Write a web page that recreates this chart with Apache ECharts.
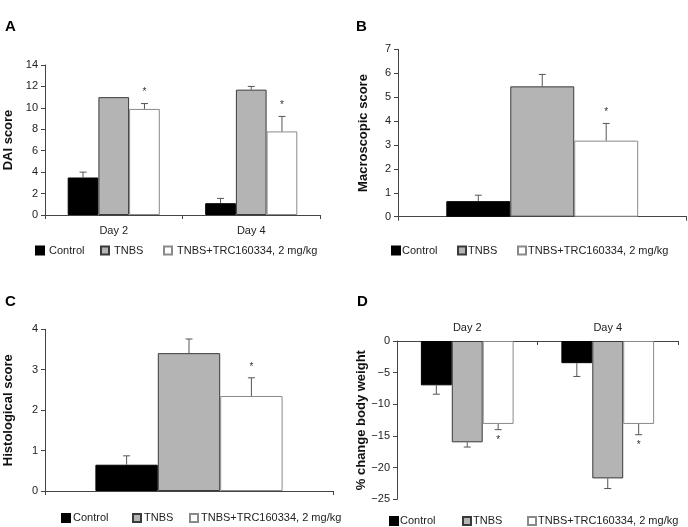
<!DOCTYPE html>
<html>
<head>
<meta charset="utf-8">
<script src="https://cdn.jsdelivr.net/npm/echarts@6/dist/echarts.min.js"></script>
<style>
html,body{margin:0;padding:0;background:#fff;}
#chart{width:688px;height:527px;}
</style>
</head>
<body>
<div id="chart"></div>
<script>
// ---- data ----
const seriesNames = ['Control', 'TNBS', 'TNBS+TRC160334, 2 mg/kg'];
const significant = [false, false, true];

const daiCategories = ['Day 2', 'Day 4'];
const daiValues = [[3.5, 1.1], [11.0, 11.7], [9.9, 7.8]];
const daiErrors = [[0.5, 0.45], [0, 0.3], [0.5, 1.4]];

const macroCategories = [''];
const macroValues = [[0.65], [5.45], [3.18]];
const macroErrors = [[0.25], [0.5], [0.72]];

const histoCategories = [''];
const histoValues = [[0.65], [3.41], [2.35]];
const histoErrors = [[0.22], [0.35], [0.45]];

const weightCategories = ['Day 2', 'Day 4'];
const weightValues = [[-7.0, -3.5], [-16.0, -21.7], [-13.1, -13.1]];
const weightErrors = [[1.4, 2.1], [0.75, 1.6], [0.9, 1.7]];

// ---- layout ----
const FONT = 'Liberation Sans, Arial, sans-serif';
const panels = [
  {letter: 'A', lx: 5, ly: 28, grid: {left: 45, top: 65, width: 275, height: 150}, cats: daiCategories, values: daiValues, errors: daiErrors,
   min: 0, max: 14, interval: 2, name: 'DAI score', nameGap: 30, gap: 0.33, xPos: 'bottom', labelMargin: 10,
   legendY: 251, legendX: [35, 100, 163], legendTextGap: 5},
  {letter: 'B', lx: 356, ly: 28, grid: {left: 398, top: 49.3, width: 288.5, height: 167.4}, cats: macroCategories, values: macroValues, errors: macroErrors,
   min: 0, max: 7, interval: 1, name: 'Macroscopic score', nameGap: 28, gap: 0.335, xPos: 'bottom', labelMargin: 10,
   legendY: 251, legendX: [391, 457, 517], legendTextGap: 2},
  {letter: 'C', lx: 5, ly: 303, grid: {left: 45, top: 329.3, width: 288, height: 161.7}, cats: histoCategories, values: histoValues, errors: histoErrors,
   min: 0, max: 4, interval: 1, name: 'Histological score', nameGap: 30, gap: 0.35, xPos: 'bottom', labelMargin: 10,
   legendY: 518.5, legendX: [61, 132, 189], legendTextGap: 3},
  {letter: 'D', lx: 357, ly: 303, grid: {left: 397, top: 341, width: 281, height: 158.3}, cats: weightCategories, values: weightValues, errors: weightErrors,
   min: -25, max: 0, interval: 5, name: '% change body weight', nameGap: 28, gap: 0.34, xPos: 'top', labelMargin: 8,
   legendY: 521.5, legendX: [389, 462, 527], legendTextGap: 2}
];

const barStyles = [
  {color: '#000000', borderColor: '#000000', borderWidth: 1},
  {color: '#b4b4b4', borderColor: '#3a3a3a', borderWidth: 1},
  {color: '#ffffff', borderColor: '#8a8a8a', borderWidth: 1}
];

const grids = [], xAxes = [], yAxes = [], series = [], legends = [], graphics = [];

panels.forEach((p, i) => {
  grids.push(Object.assign({containLabel: false}, p.grid));
  xAxes.push({
    type: 'category', gridIndex: i, data: p.cats, position: p.xPos,
    axisLine: {onZero: false, lineStyle: {color: '#444', width: 1}},
    axisTick: {show: true, length: 4, inside: p.xPos === 'top', lineStyle: {color: '#444'}},
    axisLabel: {color: '#222', fontSize: 11, fontFamily: FONT, margin: p.labelMargin},
    splitLine: {show: false}
  });
  yAxes.push({
    type: 'value', gridIndex: i, min: p.min, max: p.max, interval: p.interval,
    name: p.name, nameLocation: 'middle', nameGap: p.nameGap, nameRotate: 90,
    nameTextStyle: {fontSize: 13, fontWeight: 'bold', fontFamily: FONT, color: '#111'},
    axisLine: {show: true, lineStyle: {color: '#444', width: 1}},
    axisTick: {show: true, length: 4, lineStyle: {color: '#444'}},
    axisLabel: {color: '#222', fontSize: 11, fontFamily: FONT, margin: 7,
      formatter: v => String(v).replace('-', '\u2212')},
    splitLine: {show: false}
  });
  p.values.forEach((vals, k) => {
    series.push({
      type: 'bar', name: seriesNames[k], xAxisIndex: i, yAxisIndex: i,
      data: vals, barGap: 0, barCategoryGap: (p.gap * 100) + '%',
      itemStyle: barStyles[k], emphasis: {disabled: true}, animation: false
    });
  });
  const errData = [];
  p.values.forEach((vals, k) => {
    vals.forEach((v, c) => {
      errData.push([c, v, p.errors[k][c], k, significant[k] ? 1 : 0]);
    });
  });
  const gap = p.gap;
  series.push({
    type: 'custom', xAxisIndex: i, yAxisIndex: i, z: 5, animation: false, silent: true,
    data: errData,
    renderItem: function (params, api) {
      const c = api.value(0), v = api.value(1), e = api.value(2), k = api.value(3), s = api.value(4);
      const catW = api.size([1, 0])[0];
      const bw = catW * (1 - gap) / 3;
      const p0 = api.coord([c, v]);
      const sign = v >= 0 ? 1 : -1;
      const p1 = api.coord([c, v + sign * e]);
      const x = p0[0] + (k - 1) * bw;
      const children = [];
      const st = {stroke: '#555', lineWidth: 1};
      if (e > 0) {
        children.push({type: 'line', shape: {x1: x, y1: p0[1], x2: x, y2: p1[1]}, style: st});
        children.push({type: 'line', shape: {x1: x - 3.5, y1: p1[1], x2: x + 3.5, y2: p1[1]}, style: st});
      }
      if (s) {
        children.push({type: 'text', style: {text: '*', x: x, y: p1[1] - sign * 11, align: 'center', verticalAlign: 'middle',
          fontSize: 10, fontFamily: FONT, fill: '#333'}});
      }
      return {type: 'group', children: children};
    }
  });
  seriesNames.forEach((n, k) => {
    legends.push({
      data: [n], left: p.legendX[k], top: p.legendY - 6, padding: 0, itemGap: 0,
      icon: 'rect', itemWidth: 8, itemHeight: 8, selectedMode: false,
      textStyle: {fontSize: 11, fontFamily: FONT, color: '#222', padding: [0, 0, 0, p.legendTextGap - 5]}
    });
  });
  graphics.push({type: 'text', left: p.lx, top: p.ly - 9,
    style: {text: p.letter, fontSize: 15, fontWeight: 'bold', fontFamily: FONT, fill: '#000'}});
});

const chart = echarts.init(document.getElementById('chart'), null, {renderer: 'canvas'});
chart.setOption({
  backgroundColor: '#fff',
  animation: false,
  grid: grids, xAxis: xAxes, yAxis: yAxes, series: series, legend: legends, graphic: graphics
});
</script>
</body>
</html>
